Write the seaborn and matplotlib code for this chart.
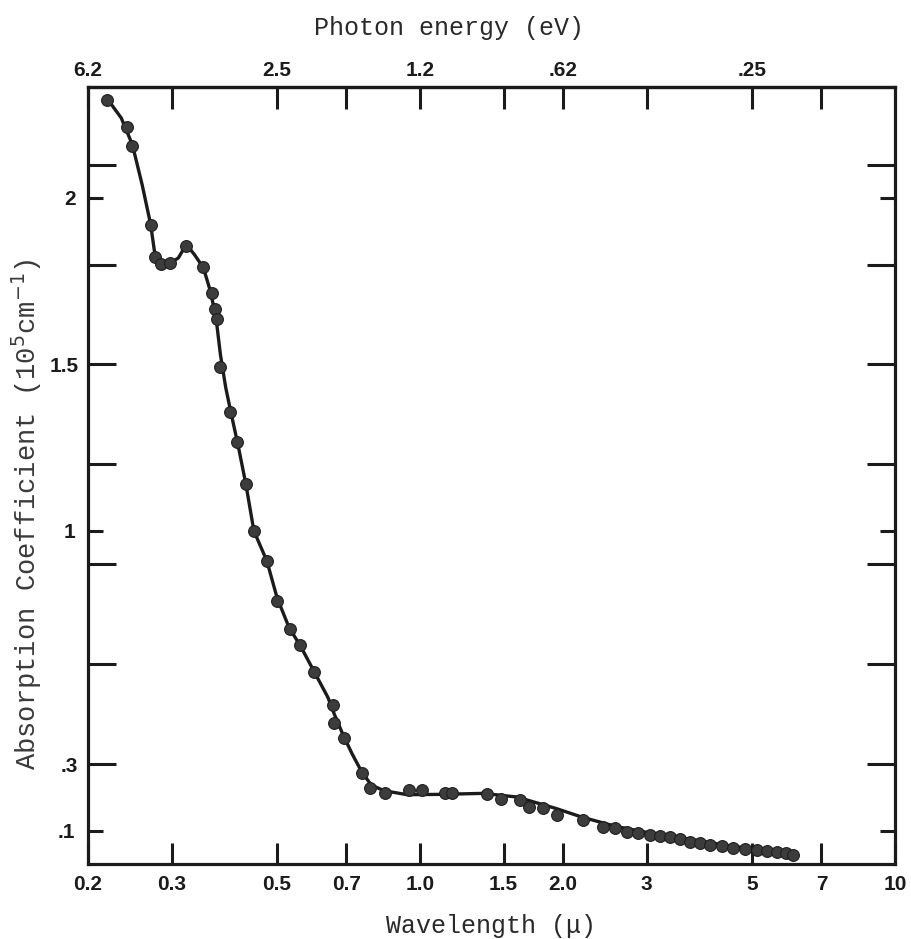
import matplotlib
matplotlib.use("Agg")
import matplotlib.pyplot as plt
from matplotlib.ticker import FixedLocator, FixedFormatter, NullFormatter
import seaborn as sns
import pandas as pd

# Measured absorption coefficient (units of 1e5 cm^-1) vs wavelength (micron)
wavelength = [0.219, 0.242, 0.248, 0.271, 0.277, 0.285, 0.298, 0.322, 0.349,
              0.365, 0.370, 0.374, 0.379, 0.398, 0.412, 0.430, 0.447, 0.476,
              0.500, 0.532, 0.559, 0.598, 0.656, 0.659, 0.692, 0.755, 0.785,
              0.844, 0.948, 1.010, 1.129, 1.168, 1.384, 1.481, 1.624, 1.696,
              1.815, 1.943, 2.204, 2.428, 2.574, 2.728, 2.876, 3.050, 3.200,
              3.360, 3.530, 3.700, 3.890, 4.080, 4.320, 4.560, 4.830, 5.120,
              5.380, 5.640, 5.900, 6.100]
absorption = [2.294, 2.213, 2.156, 1.919, 1.823, 1.802, 1.805, 1.856, 1.793,
              1.715, 1.667, 1.637, 1.492, 1.357, 1.267, 1.141, 1.000, 0.910,
              0.790, 0.706, 0.658, 0.577, 0.477, 0.423, 0.378, 0.273, 0.228,
              0.213, 0.222, 0.222, 0.213, 0.213, 0.210, 0.195, 0.192, 0.171,
              0.168, 0.147, 0.132, 0.111, 0.108, 0.096, 0.093, 0.087, 0.084,
              0.081, 0.075, 0.066, 0.063, 0.057, 0.054, 0.048, 0.045, 0.042,
              0.039, 0.036, 0.033, 0.027]

# Hand-faired curve through the measurements
curve_wavelength = [0.219, 0.235, 0.248, 0.260, 0.271, 0.276, 0.283, 0.295,
                    0.310, 0.322, 0.335, 0.350, 0.362, 0.372, 0.380, 0.390,
                    0.400, 0.415, 0.430, 0.447, 0.476, 0.500, 0.530, 0.560,
                    0.600, 0.640, 0.660, 0.690, 0.720, 0.755, 0.790, 0.840,
                    0.940, 1.100, 1.360, 1.600, 1.940, 2.200, 2.600, 3.000,
                    3.500, 4.000, 4.500, 5.100, 5.600, 6.100]
curve_absorption = [2.300, 2.240, 2.160, 2.040, 1.920, 1.840, 1.805, 1.800,
                    1.820, 1.860, 1.830, 1.790, 1.720, 1.640, 1.530, 1.430,
                    1.355, 1.250, 1.140, 1.000, 0.910, 0.800, 0.710, 0.655,
                    0.575, 0.500, 0.450, 0.385, 0.330, 0.275, 0.237, 0.220,
                    0.208, 0.209, 0.212, 0.201, 0.166, 0.140, 0.112, 0.095,
                    0.080, 0.066, 0.054, 0.044, 0.037, 0.030]

bottom_ticks = [0.2, 0.3, 0.5, 0.7, 1.0, 1.5, 2.0, 3, 5, 7, 10]
bottom_labels = ["0.2", "0.3", "0.5", "0.7", "1.0", "1.5", "2.0", "3", "5", "7", "10"]
top_ticks = [0.2, 0.3, 0.5, 0.7, 1.0, 1.5, 2.0, 3, 5, 7]
top_labels = ["6.2", "", "2.5", "", "1.2", "", ".62", "", ".25", ""]
y_long_ticks = [0.3, 0.6, 0.9, 1.2, 1.5, 1.8, 2.1]
y_long_labels = [".3", "", "", "", "1.5", "", ""]
y_short_ticks = [0.1, 1.0, 2.0]
y_short_labels = [".1", "1", "2"]

points = pd.DataFrame({"wavelength": wavelength, "absorption": absorption})
curve = pd.DataFrame({"wavelength": curve_wavelength, "absorption": curve_absorption})

sns.set_theme(style="white")
plt.rcParams["font.family"] = ["Liberation Sans", "DejaVu Sans"]

fig = plt.figure(figsize=(9.11, 9.39), dpi=100)
ax = fig.add_axes([0.0966, 0.0799, 0.8858, 0.8274])
ax.set_xscale("log")

ink = "#1b1b1b"
sns.lineplot(data=curve, x="wavelength", y="absorption", sort=False,
             estimator=None, color=ink, linewidth=2.4, ax=ax, zorder=2)
sns.scatterplot(data=points, x="wavelength", y="absorption", s=72,
                color="#3c3c3c", edgecolor="#1e1e1e", linewidth=0.8,
                ax=ax, zorder=3)

ax.set_xlim(0.2, 10)
ax.set_ylim(0, 2.333)

for side in ax.spines.values():
    side.set_linewidth(2.3)
    side.set_color(ink)

# bottom wavelength axis
ax.xaxis.set_major_locator(FixedLocator(bottom_ticks))
ax.xaxis.set_major_formatter(FixedFormatter(bottom_labels))
ax.xaxis.set_minor_locator(FixedLocator([]))
ax.xaxis.set_minor_formatter(NullFormatter())
ax.tick_params(axis="x", which="major", direction="in", length=15, width=2.2,
               color=ink, pad=8, labelsize=15, bottom=True, top=False,
               labelcolor=ink)
for lab in ax.get_xticklabels():
    lab.set_fontweight("bold")

# left absorption axis (long and short ticks), mirrored on the right
ax.yaxis.set_major_locator(FixedLocator(y_long_ticks))
ax.yaxis.set_major_formatter(FixedFormatter(y_long_labels))
ax.yaxis.set_minor_locator(FixedLocator(y_short_ticks))
ax.yaxis.set_minor_formatter(FixedFormatter(y_short_labels))
ax.tick_params(axis="y", which="major", direction="in", length=20, width=2.2,
               color=ink, pad=7, labelsize=15, left=True, right=True,
               labelcolor=ink)
ax.tick_params(axis="y", which="minor", direction="in", length=11, width=2.2,
               color=ink, pad=9, labelsize=15, left=True, right=True,
               labelcolor=ink)
for lab in ax.get_yticklabels(which="both"):
    lab.set_fontweight("bold")

# photon energy scale along the top
top = ax.secondary_xaxis("top")
top.set_xscale("log")
top.xaxis.set_major_locator(FixedLocator(top_ticks))
top.xaxis.set_major_formatter(FixedFormatter(top_labels))
top.xaxis.set_minor_locator(FixedLocator([]))
top.xaxis.set_minor_formatter(NullFormatter())
top.tick_params(axis="x", which="major", direction="in", length=16, width=2.2,
                color=ink, pad=5, labelsize=15, top=True, labelcolor=ink)
top.spines["top"].set_linewidth(2.3)
for lab in top.get_xticklabels():
    lab.set_fontweight("bold")

mono = ["Liberation Mono", "DejaVu Sans Mono"]
ax.set_xlabel("Wavelength (\u03bc)", family=mono, fontsize=18, color="#2a2a2a",
              labelpad=14)
ax.set_ylabel("Absorption Coefficient (10$^{5}$cm$^{-1}$)", family=mono,
              fontsize=19.5, color="#3a3a3a")
ax.yaxis.set_label_coords(-0.054, 0.45)
fig.text(449 / 911, 1 - 28 / 939, "Photon energy (eV)", family=mono,
         fontsize=18, color="#2a2a2a", ha="center", va="center")

fig.savefig("out.png", dpi=100, facecolor="white")
